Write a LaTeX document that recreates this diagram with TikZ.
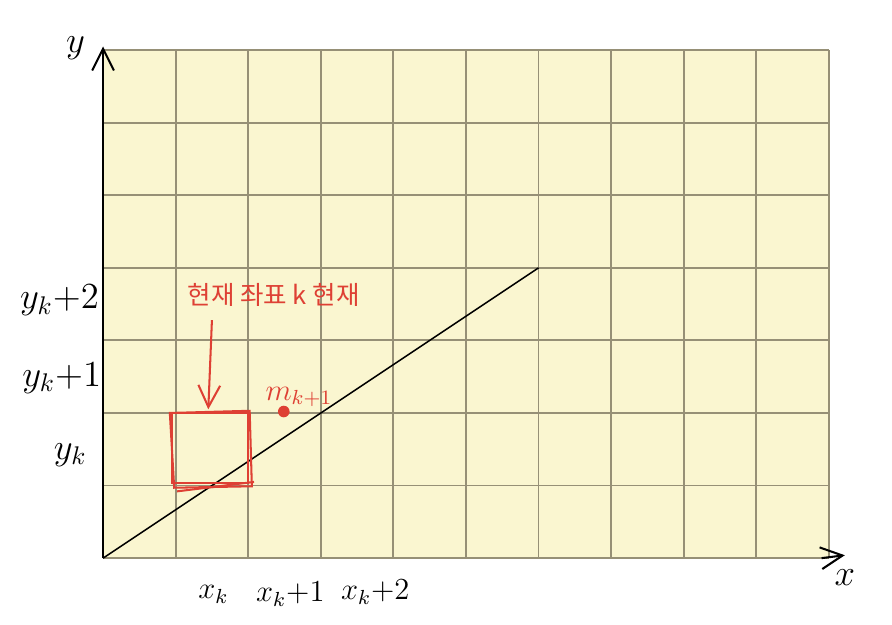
\documentclass[tikz,border=0pt]{standalone}
\usepackage{fontspec}
\newfontfamily\krfont{Noto Sans CJK KR}
\usetikzlibrary{arrows.meta}
\definecolor{paper}{RGB}{250,246,208}
\definecolor{gridline}{RGB}{150,144,118}
\definecolor{pen}{RGB}{222,64,52}
\tikzset{
  axislabel/.style={font=\Large},
  ticklabel/.style={font=\large, inner sep=1pt},
  redpen/.style={pen, line width=0.8pt},
}
\begin{document}
\begin{tikzpicture}
\useasboundingbox (-1.42,-0.91) rectangle (10.87,7.69);

\fill[paper] (0,0) rectangle (10,7);
\draw[gridline, line width=0.7pt] (0,0) grid (10,7);

\coordinate (O) at (0,0);
\coordinate (P) at (6,4);
\coordinate (ytip) at (0,7.05);
\coordinate (xtip) at (10.22,0.04);
\draw[-{Straight Barb[length=3mm,width=3mm]}, line width=0.8pt] (O) -- (ytip);
\draw[-{Straight Barb[length=3mm,width=3mm]}, line width=0.8pt] (9.9,0) -- (xtip);
\draw[line width=0.6pt] (O) -- (P);

\node[axislabel] (ylab) at (-0.38,7.02) {$y$};
\node[axislabel] (xlab) at (10.22,-0.27) {$x$};

\node[axislabel] (yk2) at (-0.6,3.55) {$y_k{+}2$};
\node[axislabel] (yk1) at (-0.57,2.48) {$y_k{+}1$};
\node[axislabel] (yk) at (-0.45,1.42) {$y_k$};
\node[ticklabel] (xk) at (1.52,-0.5) {$x_k$};
\node[ticklabel] (xk1) at (2.58,-0.5) {$x_k{+}1$};
\node[ticklabel] (xk2) at (3.75,-0.47) {$x_k{+}2$};

% current pixel
\draw[redpen] (0.95,1.03) rectangle (2.0,2.0);
\draw[redpen] (0.98,0.97) -- (2.05,0.99) -- (2.02,2.03) -- (0.92,2.0) -- cycle;
\draw[redpen] (1.02,0.92) -- (2.08,1.05);
\node[pen, font=\krfont] (note) at (2.35,3.62) {현재 좌표 k 현재};
\coordinate (tip) at (1.45,2.05);
\draw[redpen, -{Straight Barb[length=3mm,width=3mm]}] (1.5,3.28) -- (tip);

% midpoint
\fill[pen] (2.49,2.02) circle (0.08);
\node[pen, font=\large, inner sep=0pt] (mid) at (2.7,2.22) {$m_{k+1}$};

\end{tikzpicture}
\end{document}
